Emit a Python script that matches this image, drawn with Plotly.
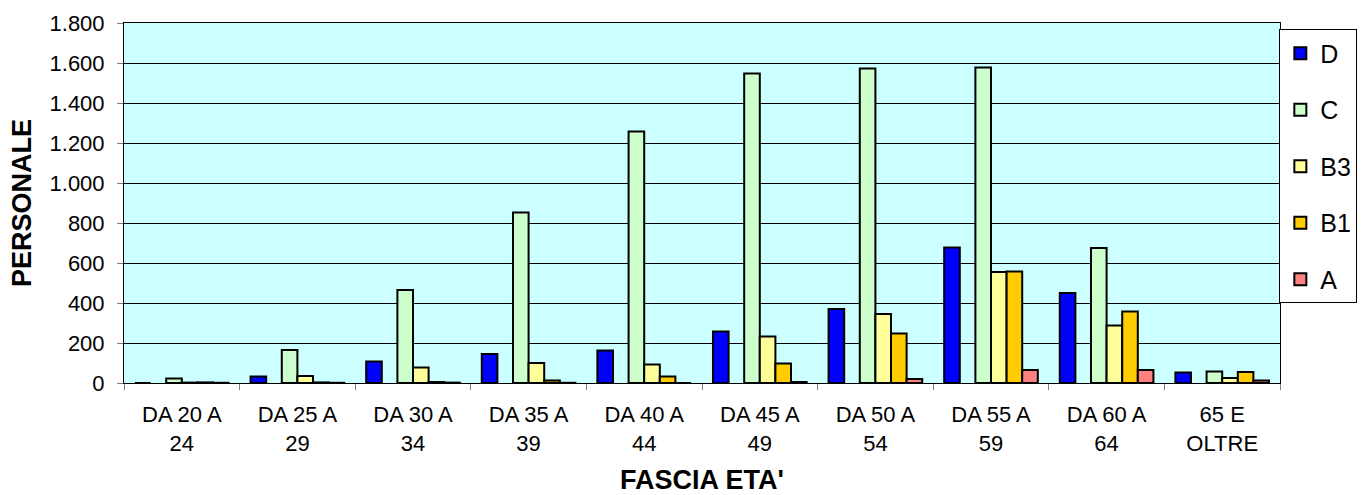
import plotly.graph_objects as go

categories = ["DA 20 A<br>24", "DA 25 A<br>29", "DA 30 A<br>34", "DA 35 A<br>39", "DA 40 A<br>44",
              "DA 45 A<br>49", "DA 50 A<br>54", "DA 55 A<br>59", "DA 60 A<br>64", "65 E<br>OLTRE"]
D = [0, 33, 107, 145, 162, 257, 370, 678, 450, 52]
EMPTY = [None] * 10
C = [22, 165, 465, 852, 1258, 1548, 1572, 1578, 675, 58]
B3 = [2, 35, 77, 100, 93, 233, 345, 555, 288, 25]
B1 = [3, 3, 5, 12, 32, 97, 247, 558, 357, 55]
A = [1, 1, 2, 1, 0, 5, 20, 65, 65, 12]

series = [("D", D, "#0000FF", True), ("", EMPTY, "#FFFFFF", False), ("C", C, "#CCFFCC", True),
          ("B3", B3, "#FFFF99", True), ("B1", B1, "#FFCC00", True), ("A", A, "#FF8080", True)]

fig = go.Figure()
for i, (name, vals, color, show) in enumerate(series):
    fig.add_trace(go.Bar(x=categories, y=vals, name=name, showlegend=show,
                         legendgroup=f"g{i}",
                         marker=dict(color=color, line=dict(color="#000000", width=2))))

fig.update_layout(
    width=1369, height=495,
    margin=dict(l=124, r=79, t=23, b=112),
    paper_bgcolor="#FFFFFF", plot_bgcolor="#CCFFFF",
    barmode="group", bargap=0.19, bargroupgap=0,
    separators=",.",
    font=dict(family="Liberation Sans, Arial, sans-serif", color="#000000", size=22),
    legend=dict(x=1.0669, y=0.982, xanchor="right", yanchor="top",
                bordercolor="#000000", borderwidth=1, bgcolor="#FFFFFF",
                font=dict(size=25), tracegroupgap=21, traceorder="grouped",
                itemwidth=30, maxheight=480),
    xaxis=dict(title=dict(text="<b>FASCIA ETA'</b>", font=dict(size=27), standoff=28),
               tickson="boundaries", ticks="outside", ticklen=6, tickcolor="#808080",
               ticklabelstandoff=12,
               showline=True, linecolor="#000000", linewidth=1, mirror=True,
               showgrid=False, automargin=False),
    yaxis=dict(title=dict(text="<b>PERSONALE</b>", font=dict(size=27), standoff=10),
               range=[0, 1800], dtick=200, tickformat=",d",
               ticks="outside", ticklen=6, tickcolor="#808080",
               ticklabelstandoff=8,
               showline=True, linecolor="#000000", linewidth=1, mirror=True,
               showgrid=True, gridcolor="#000000", gridwidth=1, zeroline=False,
               automargin=False),
)

fig.write_html("out.html", config={"displayModeBar": False},
               post_script="document.body.style.margin='0';")
